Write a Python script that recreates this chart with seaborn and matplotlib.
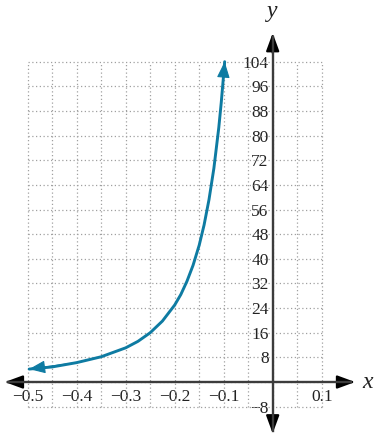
import numpy as np
import matplotlib
matplotlib.use("Agg")
import matplotlib.pyplot as plt
import seaborn as sns

# ── Data ─────────────────────────────────────────────────────────────────────
curve_x = [-0.497, -0.45, -0.4, -0.35, -0.3, -0.275, -0.25, -0.225, -0.2,
           -0.1875, -0.175, -0.1625, -0.15, -0.14, -0.13, -0.12, -0.11,
           -0.105, -0.1, -0.098]
curve_y = [4.2, 4.9, 6.3, 8.2, 11.1, 13.2, 16.0, 19.8, 25.0,
           28.4, 32.7, 37.9, 44.4, 51.0, 59.2, 69.4, 82.6,
           90.7, 100.0, 104.0]

x_major = [-0.5, -0.4, -0.3, -0.2, -0.1, 0.1]
x_major_labels = ["\u22120.5", "\u22120.4", "\u22120.3", "\u22120.2", "\u22120.1", "0.1"]
x_minor = [-0.45, -0.35, -0.25, -0.15, -0.05, 0.05]
y_ticks = [-8, 8, 16, 24, 32, 40, 48, 56, 64, 72, 80, 88, 96, 104]
y_tick_labels = ["\u22128"] + [str(v) for v in y_ticks[1:]]

grid_x = [-0.5, -0.45, -0.4, -0.35, -0.3, -0.25, -0.2, -0.15, -0.1, -0.05, 0.0, 0.05, 0.1]
grid_y = [-8, 0, 8, 16, 24, 32, 40, 48, 56, 64, 72, 80, 88, 96, 104]

CURVE_COLOR = "#0e7ba2"
AXIS_COLOR = "#3c3c3c"
SERIF = ["Liberation Serif", "DejaVu Serif"]

sns.set_style("white")
plt.rcParams["font.family"] = SERIF

fig = plt.figure(figsize=(3.75, 4.37), dpi=100)
ax = fig.add_axes([0, 0, 1, 1])
ax.set_xlim(-0.5565, 0.2088)
ax.set_ylim(-17.85, 124.03)

# dotted grid box
ax.vlines(grid_x, grid_y[0], grid_y[-1], colors="#a0a0a0", linestyles=(0, (1, 2)),
          linewidth=0.9, zorder=1)
ax.hlines(grid_y, grid_x[0], grid_x[-1], colors="#a0a0a0", linestyles=(0, (1, 2)),
          linewidth=0.9, zorder=1)

# axes through the origin
for side in ["top", "right"]:
    ax.spines[side].set_visible(False)
ax.spines["left"].set_position(("data", 0))
ax.spines["bottom"].set_position(("data", 0))
ax.spines["left"].set_bounds(-16, 112)
ax.spines["bottom"].set_bounds(-0.54, 0.16)
for side in ["left", "bottom"]:
    ax.spines[side].set_color(AXIS_COLOR)
    ax.spines[side].set_linewidth(1.7)
    ax.spines[side].set_zorder(3)

axis_arrow = dict(arrowstyle="-|>,head_length=0.6,head_width=0.22", color="black",
                  lw=1.6, mutation_scale=18)
ax.annotate("", xy=(-0.5524, 0), xytext=(-0.53, 0), arrowprops=axis_arrow)
ax.annotate("", xy=(0.174, 0), xytext=(0.15, 0), arrowprops=axis_arrow)
ax.annotate("", xy=(0, 114.2), xytext=(0, 106), arrowprops=axis_arrow)
ax.annotate("", xy=(0, -17.6), xytext=(0, -10), arrowprops=axis_arrow)

ax.set_xticks(x_major)
ax.set_xticklabels(x_major_labels)
ax.set_xticks(x_minor, minor=True)
ax.set_yticks(y_ticks)
ax.set_yticklabels(y_tick_labels)
ax.tick_params(axis="both", which="both", direction="inout", length=12, width=1.4,
               color=AXIS_COLOR, labelsize=12.5, labelcolor="#222222")
ax.tick_params(axis="x", pad=-1)
ax.tick_params(axis="y", pad=-3)

ax.text(0.182, 0, "x", fontsize=17, style="italic", va="center", ha="left", color="#222222")
ax.text(0, 117, "y", fontsize=17, style="italic", va="bottom", ha="center", color="#222222")

# curve with arrow heads at both ends
sns.lineplot(x=curve_x, y=curve_y, sort=False, color=CURVE_COLOR, linewidth=2.1,
             ax=ax, zorder=4)
curve_arrow = dict(arrowstyle="-|>,head_length=0.5,head_width=0.2", color=CURVE_COLOR,
                   lw=0.8, mutation_scale=20, shrinkA=0, shrinkB=0)
ax.annotate("", xy=(curve_x[0], curve_y[0]), xytext=(curve_x[2], curve_y[2]),
            arrowprops=curve_arrow, zorder=5)
ax.annotate("", xy=(curve_x[-1], curve_y[-1]), xytext=(curve_x[-3], curve_y[-3]),
            arrowprops=curve_arrow, zorder=5)

fig.savefig("out.png", dpi=100)
